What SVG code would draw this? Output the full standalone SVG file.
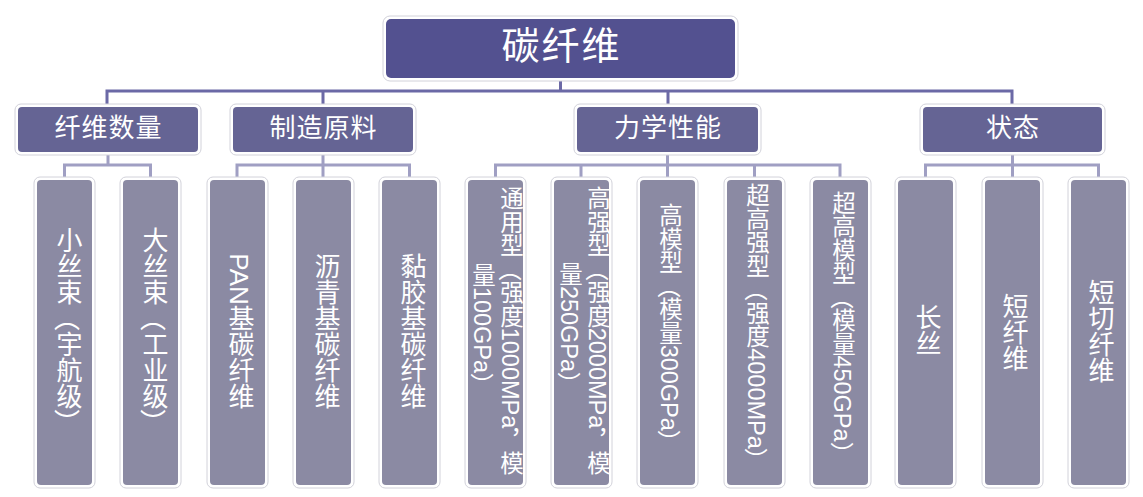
<svg xmlns="http://www.w3.org/2000/svg" width="1143" height="497" viewBox="0 0 1143 497">
<style>
.frame{fill:#fff;stroke:#d2d2da;stroke-width:1}
.root{fill:#535190}
.l2{fill:#656494}
.leaf{fill:#8b8aa3}
text{font-family:"Liberation Sans","Noto Sans CJK SC",sans-serif;fill:#fff}
.h{text-anchor:middle;dominant-baseline:central}
.v{font-family:"Liberation Sans","Noto Sans CJK SC",sans-serif;writing-mode:vertical-rl;text-orientation:mixed;text-anchor:middle;font-size:26px}
.vs{font-size:23.5px}
.u{font-family:"Noto Sans CJK SC",sans-serif;text-orientation:upright}
.c1{fill:none;stroke:#6b69a6;stroke-width:3}
.c2{fill:none;stroke:#a09fc3;stroke-width:3}
</style>
<g id="connectors">
<path class="c1" d="M107,104 V91 H1012 V104 M560.5,81 V91 M323,91 V104 M668,91 V104"/>
<path class="c2" d="M108,155 V165 M64.5,177 V165 H150.5 V177"/>
<path class="c2" d="M323,155 V165 M237,177 V165 H409.5 V177 M323,165 V177"/>
<path class="c2" d="M667.5,155 V165 M495.5,177 V165 H840 V177 M581,165 V177 M667.5,165 V177 M754.5,165 V177"/>
<path class="c2" d="M1012.5,155 V165 M925.5,177 V165 H1098.5 V177 M1012.5,165 V177"/>
</g>
<g id="root">
<rect class="frame" x="383" y="16" width="355" height="65" rx="7"/>
<rect class="root" x="386" y="19" width="349" height="59" rx="5"/>
<text class="h" x="561.5" y="46" font-size="38" letter-spacing="2">碳纤维</text>
</g>
<g id="n-quantity">
<rect class="frame" x="15" y="104" width="186" height="51" rx="6"/>
<rect class="l2" x="18" y="107" width="180" height="45" rx="4"/>
<text class="h" x="108.5" y="128" font-size="26" letter-spacing="1">纤维数量</text>
</g>
<g id="n-material">
<rect class="frame" x="230" y="104" width="186" height="51" rx="6"/>
<rect class="l2" x="233" y="107" width="180" height="45" rx="4"/>
<text class="h" x="323.5" y="128" font-size="26" letter-spacing="1">制造原料</text>
</g>
<g id="n-mechanics">
<rect class="frame" x="574" y="104" width="187" height="51" rx="6"/>
<rect class="l2" x="577" y="107" width="181" height="45" rx="4"/>
<text class="h" x="668" y="128" font-size="26" letter-spacing="1">力学性能</text>
</g>
<g id="n-state">
<rect class="frame" x="920" y="104" width="185" height="51" rx="6"/>
<rect class="l2" x="923" y="107" width="179" height="45" rx="4"/>
<text class="h" x="1013" y="128" font-size="26" letter-spacing="1">状态</text>
</g>
<g id="leaf-1">
<rect class="frame" x="34" y="177" width="61" height="311" rx="6"/>
<rect class="leaf" x="37" y="180" width="55" height="305" rx="4"/>
<text class="v" x="67" y="331">小丝束<tspan class="u">（</tspan>宇航级<tspan class="u">）</tspan></text>
</g>
<g id="leaf-2">
<rect class="frame" x="120" y="177" width="61" height="311" rx="6"/>
<rect class="leaf" x="123" y="180" width="55" height="305" rx="4"/>
<text class="v" x="153" y="331">大丝束<tspan class="u">（</tspan>工业级<tspan class="u">）</tspan></text>
</g>
<g id="leaf-3">
<rect class="frame" x="207" y="177" width="61" height="311" rx="6"/>
<rect class="leaf" x="210" y="180" width="55" height="305" rx="4"/>
<text class="v" x="239" y="331">PAN基碳纤维</text>
</g>
<g id="leaf-4">
<rect class="frame" x="293" y="177" width="61" height="311" rx="6"/>
<rect class="leaf" x="296" y="180" width="55" height="305" rx="4"/>
<text class="v" x="325" y="331">沥青基碳纤维</text>
</g>
<g id="leaf-5">
<rect class="frame" x="379" y="177" width="61" height="311" rx="6"/>
<rect class="leaf" x="382" y="180" width="55" height="305" rx="4"/>
<text class="v" x="411" y="331">黏胶基碳纤维</text>
</g>
<g id="leaf-6">
<rect class="frame" x="465" y="177" width="61" height="311" rx="6"/>
<rect class="leaf" x="468" y="180" width="55" height="305" rx="4"/>
<text class="v vs" x="510" y="331">通用型<tspan class="u">（</tspan>强度1000MPa<tspan class="u">，</tspan>模</text>
<text class="v vs" x="482" y="330">量100GPa<tspan class="u">）</tspan></text>
</g>
<g id="leaf-7">
<rect class="frame" x="551" y="177" width="61" height="311" rx="6"/>
<rect class="leaf" x="554" y="180" width="55" height="305" rx="4"/>
<text class="v vs" x="597" y="331">高强型<tspan class="u">（</tspan>强度2000MPa<tspan class="u">，</tspan>模</text>
<text class="v vs" x="569" y="329">量250GPa<tspan class="u">）</tspan></text>
</g>
<g id="leaf-8">
<rect class="frame" x="637" y="177" width="61" height="311" rx="6"/>
<rect class="leaf" x="640" y="180" width="55" height="305" rx="4"/>
<text class="v vs" x="669" y="329">高模型<tspan class="u">（</tspan>模量300GPa<tspan class="u">）</tspan></text>
</g>
<g id="leaf-9">
<rect class="frame" x="724" y="177" width="61" height="311" rx="6"/>
<rect class="leaf" x="727" y="180" width="55" height="305" rx="4"/>
<text class="v vs" x="756" y="328">超高强型<tspan class="u">（</tspan>强度4000MPa<tspan class="u">）</tspan></text>
</g>
<g id="leaf-10">
<rect class="frame" x="810" y="177" width="61" height="311" rx="6"/>
<rect class="leaf" x="813" y="180" width="55" height="305" rx="4"/>
<text class="v vs" x="842" y="328">超高模型<tspan class="u">（</tspan>模量450GPa<tspan class="u">）</tspan></text>
</g>
<g id="leaf-11">
<rect class="frame" x="895" y="177" width="61" height="311" rx="6"/>
<rect class="leaf" x="898" y="180" width="55" height="305" rx="4"/>
<text class="v" x="926" y="330">长丝</text>
</g>
<g id="leaf-12">
<rect class="frame" x="982" y="177" width="61" height="311" rx="6"/>
<rect class="leaf" x="985" y="180" width="55" height="305" rx="4"/>
<text class="v" x="1013" y="332">短纤维</text>
</g>
<g id="leaf-13">
<rect class="frame" x="1068" y="177" width="61" height="311" rx="6"/>
<rect class="leaf" x="1071" y="180" width="55" height="305" rx="4"/>
<text class="v" x="1099" y="331">短切纤维</text>
</g>
</svg>
